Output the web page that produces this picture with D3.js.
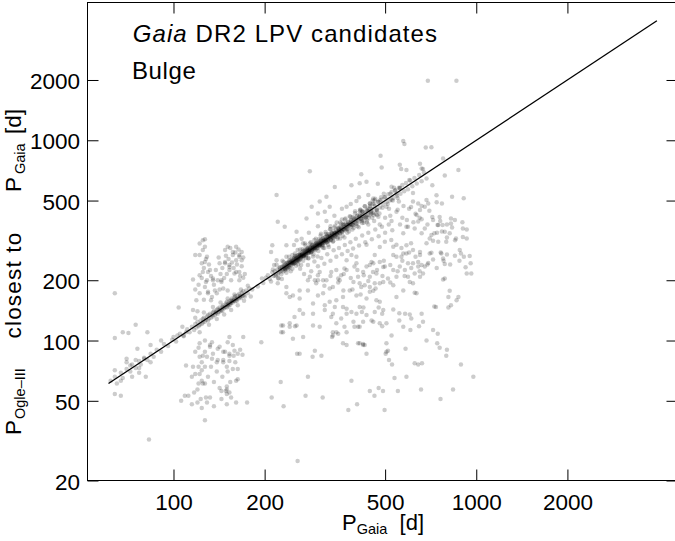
<!DOCTYPE html>
<html><head><meta charset="utf-8">
<script src="https://cdn.jsdelivr.net/npm/d3@7"></script>
<style>
body{margin:0;background:#fff}
svg{display:block}
text{font-family:"Liberation Sans",Arial,Helvetica,sans-serif;fill:#000}
</style>
</head><body>
<svg id="chart" width="675" height="541"></svg>
<script>
// ---- tick values ----
const xTicks = [100, 200, 500, 1000, 2000];
const yTicks = [20, 50, 100, 200, 500, 1000, 2000];
// identity line P_OGLE = P_Gaia, drawn between these periods
const identityEnds = [61, 3950];

// ---- data: [P_Gaia, P_OGLE-III] in days ----
const bandCore = [
[205,212],[208,203],[212,219],[214,210],[216,222],[218,213],[220,226],[221,215],[223,219],[224,231],[226,222],[227,214],[228,233],[229,226],[230,221],[231,236],[232,229],[233,224],[234,240],[235,233],[235,227],[236,244],[237,236],[238,230],[239,242],[240,235],[240,247],[241,238],[242,232],[243,251],[243,244],[244,238],[245,249],[246,243],[246,255],[247,240],[248,252],[249,246],[250,258],[250,243],[251,254],[252,249],[253,262],[253,245],[254,257],[255,251],[256,265],[256,248],[257,260],[258,254],[259,268],[260,252],[260,263],[261,257],[262,271],[263,258],[263,266],[264,261],[265,275],[266,262],[266,270],[267,265],[268,279],[269,266],[270,273],[270,262],[271,283],[272,270],[273,277],[274,268],[275,286],[275,275],[276,281],[277,271],[278,289],[279,278],[280,284],[280,274],[281,293],[282,281],[283,288],[284,277],[285,296],[286,284],[287,291],[287,280],[288,299],[289,287],[290,295],[291,284],[292,303],[293,291],[294,298],[295,288],[296,307],[297,295],[298,301],[299,291],[300,311],[301,298],[302,305],[303,295],[304,315],[305,302],[306,309],[307,299],[308,320],[309,306],[310,313],[311,302],[312,324],[313,310],[315,318],[316,306],[317,329],[318,314],[320,322],[321,310],[322,334],[323,318],[325,327],[326,314],[327,339],[328,323],[330,332],[331,319],[332,345],[334,328],[335,337],[337,325],[338,350],[339,334],[341,343],[342,330],[344,357],[345,340],[347,349],[348,336],[350,363],[352,346],[353,355],[355,342],[356,370],[358,352],[360,362],[361,348],[363,377],[365,359],[367,369],[368,355],[370,384],[372,366],[374,376],[376,361],[378,392],[380,373],[382,384],[384,368],[386,400],[388,381],[390,393],[392,376],[395,409],[397,389],[399,402],[401,384],[404,418],[406,397],[409,411],[411,393],[414,428],[416,406],[419,421],[421,402],[424,438],[427,415],[430,431],[432,412],[435,450],[438,425],[441,442],[444,422],[447,461],[450,436],[453,454],[456,433],
[225,226],[232,233],[238,238],[244,245],[249,250],[254,253],[258,259],[262,262],[266,267],[270,269],[274,274],[278,279],[282,283],[286,285],[290,290],[294,295],[298,298],[302,301],[306,306],[310,309],[314,314],[318,318],[323,323],[328,328],[333,333],[338,337],[344,344],[350,350],[356,355],[362,362],[369,368],[376,376],[384,383],[392,392],[401,400],[410,410],[420,419],
[248,247],[256,256],[264,265],[272,271],[280,280],[288,288],[296,297],[304,303],[312,313],[320,319],[330,330],[340,341],[352,351],
[231,236],[234,229],[237,244],[240,233],[243,245],[246,244],[249,256],[251,243],[254,259],[257,252],[260,268],[263,255],[266,269],[268,265],[271,279],[274,266],[277,283],[280,274],[283,291],[286,277],[289,292],[292,289],[295,304],[298,289],[301,307],[304,298],[307,316],[311,302],[314,317],[317,314],[321,331],[324,314],[327,334],[331,324],[334,344],[338,328],[342,345],[346,343],[350,361],[354,343],[358,365],[362,355],[366,377],[371,360],[376,380],[381,377],[386,398],[391,379],[396,404]
];
const bandWide = [
[215,238],[222,205],[229,250],[236,218],[241,262],[247,228],[252,272],[258,240],[262,285],[268,250],[273,298],[279,258],[284,310],[290,270],[295,322],[301,280],[306,335],[312,290],[318,348],[324,300],[330,360],[336,312],[342,374],[348,322],[355,388],[362,334],[368,402],[375,345],[382,418],[390,358],[398,432],[405,372],[413,450],[420,386],[428,468],[436,398],[445,485],[453,410],[462,502],[470,424],
[462,470],[468,450],[475,492],[480,462],[486,505],[492,478],[498,520],[505,490],[512,538],[518,500],[525,552],[532,515],[540,565],[547,528],[555,580],[562,540],[570,598],[578,556],[586,612],[595,570],[605,630],[615,590],[625,648],[636,608],[648,670],[660,625],[672,690],[685,645],
[412,420],[420,440],[430,410],[440,455],[450,430],[460,480],[470,445],[480,500],[490,460],[500,520],[510,480],[520,540],[530,500],[540,560],[550,515],[560,580],[420,395],[445,470],[465,430],[485,520],[505,465],[525,505],[545,540],[415,450],[435,390],[455,500],[475,415],[495,540],[515,455],[535,580],[555,495],
[210,197],[213,226],[217,210],[219,239],[222,204],[225,232],[228,203],[231,247],[233,228],[236,262],[239,227],[241,251],[244,222],[247,267],[249,242],[252,265],[254,236],[257,283],[259,249],[262,267],[264,238],[267,286],[269,264],[272,305],[274,258],[277,288],[279,257],[282,305],[284,275],[287,301],[289,263],[292,318],[294,282],[297,306],[299,263],[302,320],[304,301],[307,341],[310,295],[312,324],[315,290],[318,340],[320,310],[323,339],[326,293],[329,359],[331,318],[334,341],[337,313],[340,367],[343,336],[346,388],[349,328],[352,366],[355,323],[358,383],[361,350],[364,382],[367,327],[370,407],[374,359],[377,388],[380,350],[384,415],[387,379],[391,414],[394,366],[398,442],[402,382],[405,421],[409,368],[413,442],[417,404],[421,442],[425,387],[429,468],[433,416],[437,446],[441,410],[446,482],[450,441],[455,482],[459,422],[464,510],[469,450],[474,493],[479,431]
];
const bandLeft = [
[115,117],[117,113],[118,121],[119,116],[120,124],[121,118],[122,120],[123,126],[124,121],[125,128],[125,123],[126,130],[127,124],[128,127],[129,132],[130,126],[130,134],[131,129],[132,136],[133,130],[134,134],[135,138],[135,132],[136,140],[137,134],[138,137],[139,142],[140,136],[140,144],[141,139],[142,146],[143,140],[144,143],[145,148],[145,141],[146,150],[147,145],[148,147],[149,153],[150,146],[150,156],[151,150],[152,148],[153,157],[154,151],[155,159],[155,154],[156,162],[157,155],[158,158],[159,164],[160,157],[160,167],[161,161],[162,158],[163,168],[164,162],[165,171],[166,165],[167,163],[168,173],[169,167],[170,176],[171,169],[172,166],[174,178],[176,172],[178,182],
[118,130],[122,110],[126,138],[131,120],[135,147],[139,128],[143,155],[147,135],[151,162],[155,142],[159,170],[163,150],[167,180],[171,158],[176,188],[180,166],
[138,139],[142,142],[146,146],[150,151],[154,154],[158,159],[162,162],[166,167],[152,152],[156,157],
[182,180],[190,186],[198,194],[202,206],[196,204],
[62,63],[64,66],[65,61],[67,69],[68,65],[70,72],[72,70],[73,76],[75,73],[77,79],[78,76],[80,82],[82,80],[84,86],[86,83],[88,90],[91,88],[93,96],[96,94],[99,101],[102,99],[105,108],[108,105],[111,114],[113,110],
[64,103],[68,110],[71,109],[75,120],[82,110],[91,100],[84,95],[76,91],[70,78],[72,75],[77,73],[77,69],[73,66],[67,63],[64,71],[81,66],[84,78],[80,81],[70,81],[75,80],[100,104],[103,106],[108,106],[110,110],[107,117],[104,146]
];
const leftCluster = [
[122,305],[127,320],[125,283],[122,267],[118,267],[127,247],[125,220],[130,220],[122,212],[116,202],[128,196],[127,185],[135,204],[140,200],[144,196],[151,294],[157,277],[148,243],[153,233],[161,252],[165,267],[168,252],[161,220],[146,182],[151,178],[165,200],[170,206],[139,172],[130,175],[122,172],[133,159],[119,159],[116,142],[125,317],[127,294],[129,262],[124,243],[132,225],[142,243],[148,247],[153,238],[157,267],[165,262],[161,294],[148,283],[168,277],[153,225],[159,216],[165,220],[144,200],[135,200],[129,200],[137,178],[130,172],[155,200],
[118,180],[121,190],[124,205],[126,230],[128,255],[131,240],[133,210],[136,190],[138,225],[141,260],[143,215],[145,230],[147,205],[149,265],[152,255],[154,290],[156,245],[158,230],[160,275],[162,240],[164,285],[166,210],[168,235],[170,260],[172,215],[150,215],[142,180],[134,165],[126,160],[120,140],
[122,97],[127,100],[134,98],[140,91],[146,88],[153,86],[159,89],[170,104],[153,104],[132,93],[125,84],[140,80],[134,81],[122,83],[116,74],[110,75],[121,74],[124,71],[118,68],[115,66],[122,68],[125,61],[121,61],[127,61],[150,74],[146,78],[153,79],[158,84],[161,63],[150,59],[153,55],[149,56],[161,49],[163,64],[157,72],[163,86],[153,84],[146,80],[139,78],[135,86],[129,83],[142,93],[151,98],[132,95],[127,74],[124,63],[129,49],[150,54],
[118,88],[121,92],[124,78],[127,88],[130,66],[133,74],[136,62],[139,70],[142,58],[145,66],[148,88],[151,70],[154,62],[157,95],[160,78],[163,72],[166,90],[169,85],[120,57],[128,52],[136,47],[144,56],[155,52]
];
const lowPoints = [
[64,54],[67,53],[106,50],[109,53],[112,53],[115,48],[117,55],[120,49],[123,51],[124,46],[127,40],[132,52],[144,51],[150,48],[150,57],[175,49],[211,52],[231,47],[273,53],[311,52],[378,45],[404,48],[461,53],[476,58],[492,56],[498,45],[551,56],[657,57],[762,51],[838,57]
];
const rightCloud = [
[195,98],[226,62],[256,86],[278,66],[288,83],[308,84],[334,104],[345,110],[332,131],[373,110],[387,63],[412,97],[428,95],[505,88],[505,97],[480,122],[493,142],[434,134],[412,147],[468,159],[396,117],[345,159],[364,178],[373,136],[304,117],[242,117],[252,118],[227,110],[230,119],[268,136],[289,153],[261,162],[278,178],[248,168],[236,172],[312,172],[328,182],[350,204],[320,200],[296,193],[278,200],[304,220],[373,225],[402,243],[456,220],[480,193],[445,185],[493,233],
[219,533],[341,585],[387,597],[412,610],[434,621],[286,466],[304,494],[320,522],[300,431],[316,439],[328,466],[373,466],[402,498],[440,533],[457,512],[221,392],[233,370],[255,349],[275,407],[212,299],[210,277],[236,299],[255,317],[268,306],[219,252],[221,193],[236,185],[242,165],[261,178],[261,142],[251,131],[227,119],[230,110],[242,122],[255,119],[248,102],[268,104],[261,86],[289,119],[293,89],[293,200],[282,208],[300,212],[312,200],[332,220],[345,225],[354,200],[336,185],[300,168],[316,150],[328,156],[341,147],[363,165],[382,178],[393,196],[407,208],[423,220],[434,234],[457,243],[396,234],[373,252],[387,267],[402,262],[367,229],[358,212],[445,208],[417,185],[363,147],[373,144],[358,129],[345,122],[336,110],[367,117],[393,124],[407,117],[423,124],[402,136],[387,139],[336,106],[350,108],[363,97],[373,95],[407,97],[423,95],[402,168],[434,162],[462,139],[451,126],[434,86],[316,142],[289,136],[336,136],[445,56],
[588,370],[643,393],[676,363],[749,378],[774,378],[832,367],[930,358],[711,336],[742,345],[770,350],[800,327],[857,323],[903,329],[685,306],[720,315],[652,277],[702,272],[763,275],[800,269],[882,283],[910,262],[951,264],[958,243],[922,232],[930,216],[963,216],[777,257],[787,241],[720,254],[694,244],[676,234],[667,216],[652,208],[626,216],[643,234],[660,238],[777,202],[787,204],[817,177],[861,159],[873,165],[825,150],[809,146],[727,148],[736,147],[635,172],[626,173],[574,178],[618,193],[603,196],[545,165],[480,156],[476,146],[424,146],[419,139],[412,117],[457,124],[489,136],[532,143],[557,137],[582,136],[603,135],[610,129],[660,136],[667,124],[647,118],[606,113],[574,117],[557,126],[489,118],[505,122],[525,106],[685,100],[720,113],[746,108],[743,97],[757,92],[800,90],[796,84],[890,76],[978,66],[643,76],[662,77],[626,77],[588,66],[537,65],[584,91],[511,89],[502,86],[515,80],[527,76],[423,96],[809,165],
[480,293],[499,311],[524,318],[545,301],[566,290],[588,299],[609,306],[574,272],[532,267],[462,267],[434,301],[480,247],[451,247],[559,234],[581,225],[532,225],[499,234],[468,216],[511,204],[493,196],[532,189],[462,193],[445,175],[457,177],[428,189],[412,193],[545,208],[595,208],[618,243],[643,247],[595,243],
[574,991],[579,957],[681,920],[711,923],[483,837],[777,812],[487,731],[559,755],[652,763],[660,722],[667,718],[588,710],[565,718],[873,710],[787,667],[417,676],[601,633],[473,607],[716,596],[525,586],[739,532],[770,483],[832,523],[909,513],[685,503],[618,546],[559,576],[618,494],[643,483],[609,464],[652,448],[676,466],[694,483],[635,424],[660,403],[716,414],[757,414],[745,377],[825,407],[825,384],[903,363],[787,349],[727,343],[702,323],[749,311],[796,311],[817,343],[851,317],[930,323],[890,272],[767,272],[711,274],[652,267],[618,283],[588,272],[566,262],[532,294],[574,343],[595,370],[626,363],[660,343],
[262,228],[270,215],[278,238],[285,222],[292,248],[300,235],[308,258],[315,242],[322,270],[330,250],[338,282],[345,262],[352,290],[360,270],[368,300],[376,280],[384,310],[392,288],[400,322],[410,298],[420,335],[430,310],[440,345],[452,320],[464,358],[476,332],[488,370],[500,345],[514,380],[528,355],[300,200],[315,188],[330,210],[350,195],[365,215],[385,205],[405,225],[425,212],[445,238],[470,225],[495,250],[520,238],[545,262],[570,250],[600,275],[630,262],[390,180],[415,170],[440,198],[465,182],[490,210],[520,195],[550,222],[580,210],[610,230],[650,222],[690,240],[740,230],[780,250],[820,240],[850,265],[880,250],[520,420],[545,440],[570,410],[600,455],[630,430],[660,470],[700,445],[740,490],[560,380],[590,400],[620,390],[650,410],[690,380],[720,400],[760,395],[800,380],[850,400],[900,390],[440,380],[460,395],[480,380],[500,410],[525,395],[550,450],[575,470],
[250,300],[265,322],[280,345],[300,372],[320,395],[340,420],[360,455],[385,480],[410,520],[330,372],[360,402]
];
const outliers = [[83,32],[257,25],[692,1984],[860,1984],[64,172],[282,700]];

// ---- layout ----
const W = 675, H = 541;
const X0 = 87.5, X1 = 677.5, Y0 = 480.5, Y1 = 2.5;
const x = d3.scaleLog().domain([52, 4620]).range([X0, X1]);
const y = d3.scaleLog().domain([20, 4875]).range([Y0, Y1]);

const svg = d3.select("#chart");
svg.append("rect").attr("width", W).attr("height", H).attr("fill", "#fff");

svg.append("clipPath").attr("id", "plotclip")
  .append("rect").attr("x", X0).attr("y", Y1).attr("width", X1 - X0).attr("height", Y0 - Y1);

const allPts = [].concat(bandCore, bandWide, bandLeft, leftCluster, lowPoints, rightCloud, outliers);
const gPts = svg.append("g").attr("clip-path", "url(#plotclip)");
gPts.selectAll("circle").data(allPts).join("circle")
  .attr("cx", d => x(d[0])).attr("cy", d => y(d[1])).attr("r", 2.25)
  .attr("fill", "#000").attr("fill-opacity", 0.2);

// identity line
gPts.append("line")
  .attr("x1", x(identityEnds[0])).attr("y1", y(identityEnds[0]))
  .attr("x2", x(identityEnds[1])).attr("y2", y(identityEnds[1]))
  .attr("stroke", "#000").attr("stroke-width", 1.3);

// axes (ticks inward)
const fmt = d3.format("d");
const fs = "22.5px";
const gB = svg.append("g").attr("transform", `translate(0,${Y0})`)
  .call(d3.axisBottom(x).tickValues(xTicks).tickSize(-11).tickPadding(14).tickFormat(fmt));
const gT = svg.append("g").attr("transform", `translate(0,${Y1})`)
  .call(d3.axisTop(x).tickValues(xTicks).tickSize(-11).tickFormat(""));
const gL = svg.append("g").attr("transform", `translate(${X0},0)`)
  .call(d3.axisLeft(y).tickValues(yTicks).tickSize(-11).tickPadding(7.5).tickFormat(fmt));
const gR = svg.append("g").attr("transform", `translate(${X1},0)`)
  .call(d3.axisRight(y).tickValues(yTicks).tickSize(-11).tickFormat(""));
[gB, gT, gL, gR].forEach(g => {
  g.select(".domain").remove();
  g.selectAll(".tick line").attr("stroke", "#000").attr("stroke-width", 1);
  g.selectAll("text").attr("font-size", fs).attr("font-family", "Liberation Sans, Arial, sans-serif").attr("fill", "#000");
});
gL.selectAll("text").attr("dy", "0.38em");

// frame
svg.append("rect").attr("x", X0).attr("y", Y1).attr("width", X1 - X0).attr("height", Y0 - Y1)
  .attr("fill", "none").attr("stroke", "#000").attr("stroke-width", 1);

// annotation
const ann = svg.append("text").attr("x", 132.7).attr("y", 41.7).attr("font-size", "24px").attr("letter-spacing", "1.1px");
ann.append("tspan").attr("font-style", "italic").text("Gaia");
ann.append("tspan").text(" DR2 LPV candidates");
svg.append("text").attr("x", 132).attr("y", 79).attr("font-size", "24px").attr("letter-spacing", "0.6px").text("Bulge");

// x title
const xt = svg.append("text").attr("x", 383).attr("y", 530).attr("text-anchor", "middle").attr("font-size", "22px").attr("xml:space", "preserve");
xt.append("tspan").text("P");
xt.append("tspan").attr("font-size", "14.5px").attr("dy", 4).text("Gaia");
xt.append("tspan").attr("dy", -4).text("  [d]");

// y title (rotated)
const yt = svg.append("g").attr("transform", "translate(20.7,0) rotate(-90)");
yt.append("text").attr("x", -435).attr("y", 0).attr("font-size", "22.5px").text("P");
yt.append("text").attr("x", -419).attr("y", 4).attr("font-size", "14.5px").text("Ogle\u2013III");
yt.append("text").attr("x", -285).attr("y", 0).attr("text-anchor", "middle").attr("font-size", "22.5px").attr("letter-spacing", "1.2px").text("closest to");
yt.append("text").attr("x", -192).attr("y", 0).attr("font-size", "22.5px").text("P");
yt.append("text").attr("x", -174).attr("y", 4).attr("font-size", "14.5px").text("Gaia");
yt.append("text").attr("x", -134).attr("y", 0).attr("font-size", "22.5px").text("[d]");
</script>
</body></html>
